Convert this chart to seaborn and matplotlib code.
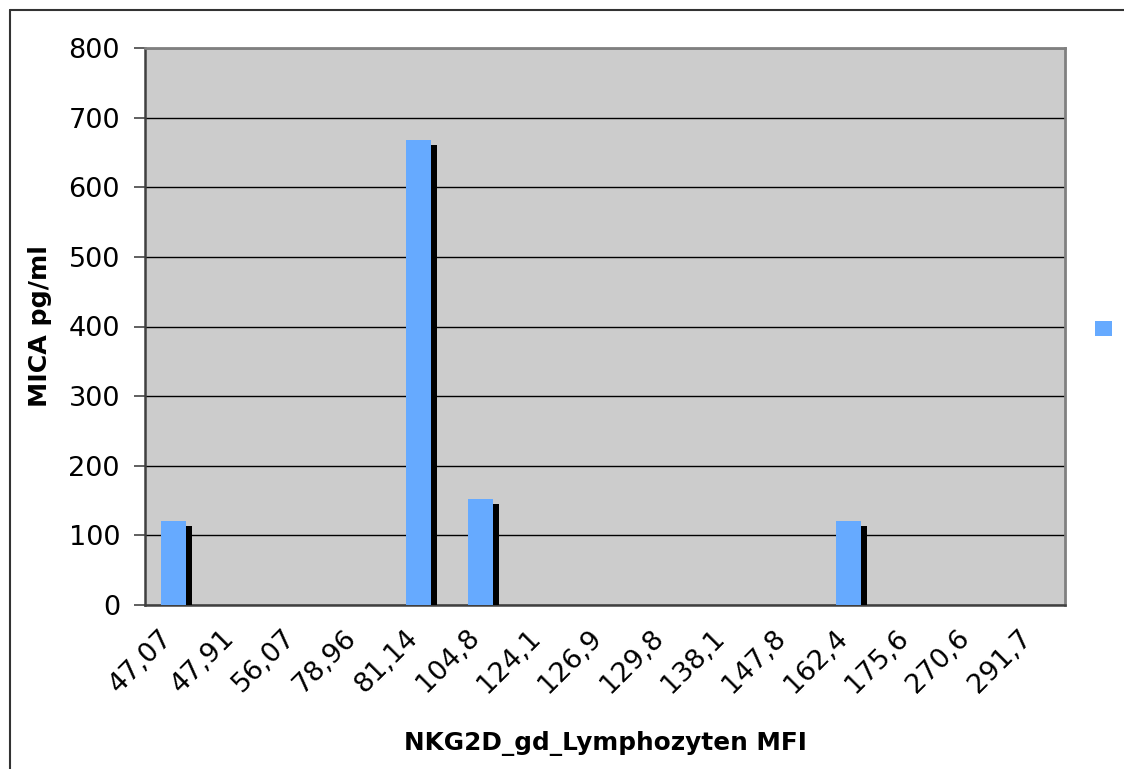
import matplotlib
matplotlib.use("Agg")
import matplotlib.pyplot as plt
import matplotlib.patheffects as pe
from matplotlib.patches import Patch
from matplotlib.lines import Line2D
from matplotlib.transforms import ScaledTranslation
import seaborn as sns
import pandas as pd

# MFI categories (German decimal comma) and MICA concentrations
categories = ["47,07", "47,91", "56,07", "78,96", "81,14", "104,8", "124,1",
              "126,9", "129,8", "138,1", "147,8", "162,4", "175,6", "270,6", "291,7"]
mica_values = [120, 0, 0, 0, 668, 152, 0, 0, 0, 0, 0, 120, 0, 0, 0]
y_ticks = [0, 100, 200, 300, 400, 500, 600, 700, 800]

bar_color = "#66AAFF"
plot_bg = "#CCCCCC"

df = pd.DataFrame({"mfi": categories, "mica": mica_values})

sns.set_theme(style="white")
plt.rcParams["font.family"] = ["DejaVu Sans"]
plt.rcParams["text.color"] = "black"
plt.rcParams["axes.labelcolor"] = "black"
plt.rcParams["xtick.color"] = "black"
plt.rcParams["ytick.color"] = "black"

fig = plt.figure(figsize=(11.24, 7.69), dpi=100)
ax = fig.add_axes([145 / 1124, 1 - 605 / 769, 920 / 1124, 557 / 769])
ax.set_facecolor(plot_bg)

sns.barplot(data=df, x="mfi", y="mica", order=categories, color=bar_color,
            width=0.41, saturation=1, ax=ax, zorder=3)

# drop-shadow look on the bars, nudged slightly left within the category
for p in ax.patches:
    p.set_x(p.get_x() - 0.035)
    p.set_edgecolor("none")
    p.set_path_effects([pe.SimplePatchShadow(offset=(4.3, -3.6), shadow_rgbFace="black", alpha=1.0),
                        pe.Normal()])

ax.set_ylim(0, 800)
ax.set_xlim(-0.5, len(categories) - 0.5)
ax.set_yticks(y_ticks)
ax.yaxis.grid(True, color="black", linewidth=1.0, zorder=1)
ax.set_axisbelow(True)

# category boundaries carry the tick marks, labels sit at category centres
ax.set_xticks([i for i in range(len(categories))])
ax.set_xticklabels(categories, rotation=45, ha="right", va="top",
                   rotation_mode="anchor", fontsize=19.5, color="black")
ax.set_xticks([i - 0.5 for i in range(len(categories) + 1)], minor=True)
ax.tick_params(axis="x", which="major", length=0, pad=14)
ax.tick_params(axis="x", which="minor", length=7, width=1.5, color="#333333", direction="out")
ax.tick_params(axis="y", length=8, width=1.2, color="#444444", direction="out",
               pad=10, labelsize=19.5, labelcolor="black", left=True)
offset = ScaledTranslation(-16 / 100, 0, fig.dpi_scale_trans)
for lbl in ax.get_xticklabels():
    lbl.set_transform(lbl.get_transform() + offset)

for side in ("left", "bottom"):
    ax.spines[side].set_color("#404040")
    ax.spines[side].set_linewidth(1.8)
for side in ("top", "right"):
    ax.spines[side].set_color("#808080")
    ax.spines[side].set_linewidth(2.0)

ax.set_xlabel("NKG2D_gd_Lymphozyten MFI", fontsize=17.8, fontweight="bold", color="black")
ax.set_ylabel("MICA pg/ml", fontsize=18.2, fontweight="bold", color="black")
ax.xaxis.set_label_coords(0.5, 1 - (731.5 - 48) / 557, transform=ax.transAxes)
ax.yaxis.set_label_coords((52 - 145) / 920, 0.5, transform=ax.transAxes)

# legend with a single swatch and no text
fig.legend(handles=[Patch(facecolor=bar_color, edgecolor="none")], labels=[""],
           loc="center left", bbox_to_anchor=(1095 / 1124, 1 - 329.5 / 769),
           frameon=False, borderpad=0, borderaxespad=0, handlelength=1.0,
           handleheight=1.0, handletextpad=0, fontsize=12)

# outer chart border
fig.add_artist(Line2D([10 / 1124, 10 / 1124], [1 - 10 / 769, 0], transform=fig.transFigure,
                      color="#333333", linewidth=1.5))
fig.add_artist(Line2D([10 / 1124, 1], [1 - 10 / 769, 1 - 10 / 769], transform=fig.transFigure,
                      color="#333333", linewidth=1.5))

fig.savefig("out.png", dpi=100)
